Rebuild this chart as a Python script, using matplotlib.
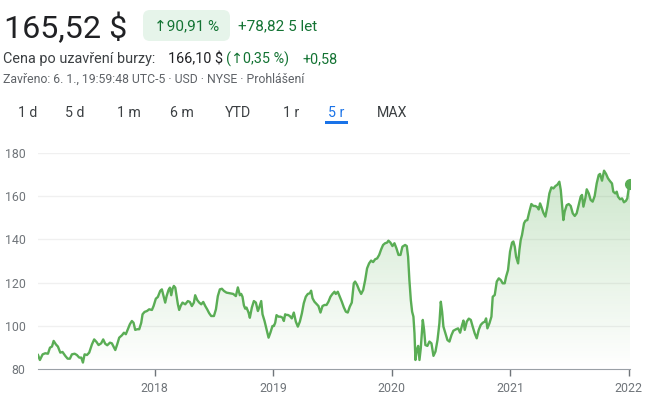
import numpy as np
import matplotlib.pyplot as plt
from matplotlib.patches import FancyBboxPatch, Rectangle
from matplotlib.transforms import Affine2D

# data: decimal year, closing price ($)
years = [
    2017.017, 2017.033, 2017.056, 2017.078, 2017.101, 2017.118, 2017.135, 2017.149,
    2017.168, 2017.185, 2017.205, 2017.224, 2017.247, 2017.267, 2017.286, 2017.303,
    2017.326, 2017.345, 2017.365, 2017.382, 2017.396, 2017.410, 2017.430, 2017.449,
    2017.472, 2017.491, 2017.511, 2017.528, 2017.550, 2017.567, 2017.584, 2017.601,
    2017.624, 2017.640, 2017.654, 2017.669, 2017.685, 2017.702, 2017.725, 2017.742,
    2017.758, 2017.775, 2017.792, 2017.809, 2017.823, 2017.837, 2017.854, 2017.871,
    2017.888, 2017.899, 2017.916, 2017.936, 2017.955, 2017.978, 2017.992, 2018.011,
    2018.028, 2018.048, 2018.062, 2018.076, 2018.090,
    2018.102, 2018.118, 2018.130, 2018.141, 2018.152, 2018.163, 2018.175, 2018.186,
    2018.197, 2018.208, 2018.220, 2018.236, 2018.259, 2018.281, 2018.298, 2018.315,
    2018.332, 2018.343, 2018.360, 2018.377, 2018.394, 2018.411, 2018.428, 2018.444,
    2018.461, 2018.478, 2018.501, 2018.518, 2018.534, 2018.551, 2018.568, 2018.585,
    2018.607, 2018.636, 2018.664, 2018.686, 2018.703, 2018.720, 2018.731, 2018.742,
    2018.754, 2018.765, 2018.776, 2018.793, 2018.804, 2018.821, 2018.838, 2018.855,
    2018.872, 2018.883, 2018.900, 2018.911, 2018.928, 2018.945, 2018.962, 2018.978,
    2018.995, 2019.007, 2019.018, 2019.029, 2019.046, 2019.063, 2019.080, 2019.091,
    2019.102,
    2019.108, 2019.125, 2019.141, 2019.158, 2019.175, 2019.192, 2019.209, 2019.226,
    2019.243, 2019.259, 2019.276, 2019.293, 2019.310, 2019.321, 2019.333, 2019.349,
    2019.366, 2019.383, 2019.400, 2019.417, 2019.434, 2019.451, 2019.467, 2019.484,
    2019.501, 2019.518, 2019.529, 2019.546, 2019.563, 2019.580, 2019.597, 2019.614,
    2019.630, 2019.647, 2019.664, 2019.681, 2019.692, 2019.709, 2019.726, 2019.743,
    2019.760, 2019.777, 2019.793, 2019.810, 2019.827, 2019.844, 2019.861, 2019.878,
    2019.895, 2019.912, 2019.928, 2019.945, 2019.962, 2019.973, 2019.990, 2020.007,
    2020.024, 2020.041, 2020.058, 2020.075, 2020.091, 2020.114,
    2020.128, 2020.139, 2020.150, 2020.162, 2020.173, 2020.184, 2020.193, 2020.201,
    2020.212, 2020.224, 2020.235, 2020.246, 2020.263, 2020.274, 2020.285, 2020.302,
    2020.319, 2020.336, 2020.353, 2020.370, 2020.387, 2020.403, 2020.415, 2020.426,
    2020.437, 2020.454, 2020.471, 2020.488, 2020.505, 2020.521, 2020.544, 2020.561,
    2020.578, 2020.595, 2020.606, 2020.617, 2020.634, 2020.651, 2020.668, 2020.684,
    2020.701, 2020.718, 2020.735, 2020.752, 2020.769, 2020.786, 2020.797, 2020.808,
    2020.825, 2020.842, 2020.853, 2020.870, 2020.887, 2020.904, 2020.921, 2020.937,
    2020.954, 2020.966, 2020.982, 2020.999,
    2021.016, 2021.027, 2021.039, 2021.050, 2021.067, 2021.078, 2021.089, 2021.100,
    2021.117, 2021.129, 2021.145, 2021.162, 2021.179, 2021.196, 2021.213, 2021.230,
    2021.241, 2021.252, 2021.263, 2021.280, 2021.297, 2021.314, 2021.331, 2021.348,
    2021.365, 2021.382, 2021.398, 2021.415, 2021.427, 2021.438, 2021.449, 2021.460,
    2021.477, 2021.494, 2021.511, 2021.528, 2021.545, 2021.561, 2021.578, 2021.595,
    2021.606, 2021.618, 2021.634, 2021.646, 2021.663, 2021.679, 2021.696, 2021.713,
    2021.730, 2021.747, 2021.758, 2021.775, 2021.792, 2021.809, 2021.825, 2021.842,
    2021.859, 2021.870, 2021.887, 2021.899, 2021.910, 2021.927, 2021.944, 2021.960,
    2021.977, 2021.988, 2022.000, 2022.005, 2022.011,
]
prices = [
    86.6, 84.3, 86.9, 87.4, 87.2, 90.0, 90.5, 93.1,
    91.5, 90.5, 87.7, 88.0, 86.2, 84.9, 84.9, 86.9,
    87.2, 86.6, 85.4, 85.4, 83.1, 86.9, 86.6, 87.7,
    91.5, 93.8, 92.6, 91.2, 92.0, 93.8, 91.8, 91.1,
    92.3, 92.0, 90.5, 88.9, 91.5, 94.6, 95.7, 96.9,
    96.2, 98.5, 100.8, 102.3, 101.5, 98.2, 98.5, 98.5,
    101.5, 105.4, 106.5, 106.9, 107.7, 107.4, 109.2, 112.6,
    113.4, 116.2, 116.9, 113.8, 110.8,
    113.8, 116.6, 117.7, 114.2, 117.2, 118.5, 117.7, 113.8,
    110.0, 107.4, 109.2, 110.8, 110.0, 111.5, 111.1, 109.2,
    110.8, 114.2, 112.0, 110.8, 110.0, 111.1, 109.2, 107.7,
    105.9, 104.6, 104.6, 107.7, 113.8, 116.9, 117.2, 116.2,
    115.4, 115.1, 114.8, 113.8, 117.8, 114.2, 114.8, 113.5,
    109.5, 108.0, 108.5, 106.2, 103.8, 108.5, 111.5, 110.8,
    106.9, 108.5, 111.5, 105.4, 102.3, 98.5, 94.6, 97.0,
    100.0, 100.0, 101.5, 105.0, 104.3, 104.3, 103.8, 102.3,
    105.4,
    105.1, 105.1, 104.6, 103.5, 106.2, 102.0, 99.7, 102.0,
    105.8, 110.5, 113.5, 114.8, 115.1, 116.3, 112.8, 111.2,
    110.2, 109.2, 106.2, 109.2, 109.7, 109.7, 111.2, 113.5,
    114.8, 115.8, 114.8, 115.8, 113.5, 111.2, 108.6, 106.6,
    106.2, 108.9, 110.8, 119.7, 120.5, 118.9, 116.6, 114.8,
    116.6, 121.2, 126.6, 128.9, 130.2, 129.5, 130.8, 131.2,
    132.8, 135.4, 137.4, 138.2, 138.5, 139.4, 138.5, 136.9,
    138.2, 135.8, 132.8, 132.8, 136.6, 137.4,
    136.9, 132.0, 121.2, 112.0, 106.6, 104.3, 96.6, 84.3,
    88.9, 90.8, 84.3, 89.7, 102.8, 98.2, 91.2, 90.8,
    92.8, 92.0, 86.2, 88.2, 93.5, 101.2, 111.2, 106.6,
    99.7, 96.6, 93.5, 92.8, 95.8, 97.8, 98.5, 98.9,
    96.9, 100.5, 102.5, 98.2, 102.0, 103.4, 102.8, 99.7,
    96.6, 94.3, 98.2, 100.5, 101.5, 102.0, 103.5, 98.9,
    101.2, 104.3, 113.5, 114.3, 120.5, 122.0, 121.2, 119.7,
    119.7, 122.8, 125.8, 134.3,
    138.5, 139.0, 136.6, 132.0, 128.9, 135.1, 139.7, 142.0,
    147.4, 148.6, 148.9, 152.8, 156.3, 155.4, 155.4, 154.8,
    153.8, 156.6, 155.1, 152.3, 150.5, 155.1, 161.2, 164.0,
    163.5, 164.6, 165.2, 166.6, 162.8, 155.8, 148.9, 152.8,
    155.8, 156.3, 155.4, 152.0, 150.8, 152.0, 155.8, 159.7,
    160.5, 155.1, 158.9, 163.1, 161.2, 158.2, 157.4, 160.0,
    165.8, 169.7, 170.2, 167.1, 171.7, 170.2, 168.2, 166.9,
    165.8, 162.0, 161.2, 162.0, 159.7, 158.5, 158.9, 157.1,
    157.8, 158.9, 163.5, 164.8, 165.52,
]
year_ticks = [2018, 2019, 2020, 2021, 2022]
price_ticks = [80, 100, 120, 140, 160, 180]
tabs = ["1 d", "5 d", "1 m", "6 m", "YTD", "1 r", "5 r", "MAX"]
tab_x = [18, 65, 117, 170, 225, 283, 328, 377]
active_tab = "5 r"

GREEN_TXT = "#137333"
LINE = "#5aad55"
GRAY = "#5f6368"

plt.rcParams['font.family'] = ['Roboto', 'DejaVu Sans']

W, H = 650, 399
fig = plt.figure(figsize=(W / 100, H / 100), dpi=100)
# pixel coords with origin top-left
px = Affine2D().scale(1 / W, -1 / H).translate(0, 1) + fig.transFigure

# header
fig.text(4, 38, "165,52 $", transform=px, fontsize=23.2, color="#202124", va="baseline")
fig.patches.append(FancyBboxPatch((143, 10), 87, 31, boxstyle="round,pad=0,rounding_size=7",
                                  transform=px, facecolor="#e6f4ea", edgecolor="none"))
fig.text(187, 26, "↑90,91 %", transform=px, fontsize=11, color=GREEN_TXT, ha="center", va="center")
fig.text(238, 26, "+78,82 5 let", transform=px, fontsize=11, color=GREEN_TXT, va="center")

fig.text(3, 59, "Cena po uzavření burzy:", transform=px, fontsize=10.4, color="#3c4043", va="center")
fig.text(168, 59, "166,10 $", transform=px, fontsize=10.4, color="#202124", va="center")
fig.text(226, 59, "(↑0,35 %)", transform=px, fontsize=10.4, color=GREEN_TXT, va="center")
fig.text(302, 59, "+0,58", transform=px, fontsize=10.4, color=GREEN_TXT, va="center")
fig.text(3, 79, "Zavřeno: 6. 1., 19:59:48 UTC-5 · USD · NYSE · Prohlášení", transform=px,
         fontsize=8.8, color=GRAY, va="center")

for label, x in zip(tabs, tab_x):
    c = "#1a73e8" if label == active_tab else "#3c4043"
    fig.text(x, 113, label, transform=px, fontsize=10.2, color=c, va="center")
    if label == active_tab:
        fig.patches.append(Rectangle((325, 121), 23, 3, transform=px, facecolor=c, edgecolor="none"))

# chart
ax = fig.add_axes([38 / W, 1 - 369.3 / H, 592 / W, (369.3 - 152.7) / H])
x = np.array(years)
y = np.array(prices)
ax.plot(x, y, color=LINE, lw=1.7, zorder=3, solid_joinstyle="round")
ax.plot(x[-1], y[-1], "o", color=LINE, ms=7, zorder=4)

# gradient fill under the line
poly = ax.fill_between(x, y, 80, facecolor="none", edgecolor="none")
grad = np.linspace(0.0, 1.0, 256).reshape(-1, 1)
rgba = np.zeros((256, 1, 4))
rgba[..., 0] = 0.35
rgba[..., 1] = 0.68
rgba[..., 2] = 0.33
rgba[..., 3] = grad * 0.3
im = ax.imshow(rgba, aspect="auto", extent=[x[0], x[-1], 80, y.max()], origin="lower", zorder=2)
im.set_clip_path(poly.get_paths()[0], transform=ax.transData)

ax.set_xlim(x[0], x[-1])
ax.set_ylim(80, 180)
ax.set_xticks(year_ticks)
ax.set_xticklabels([str(t) for t in year_ticks])
ax.set_yticks(price_ticks)
for t in price_ticks[1:]:
    ax.axhline(t, color="#f0f0f0", lw=1, zorder=1)
for s in ["top", "right", "left"]:
    ax.spines[s].set_visible(False)
ax.spines["bottom"].set_color("#9aa0a6")
ax.tick_params(axis="x", length=5, width=1, color="#70757a", labelcolor="#70757a",
               labelsize=8.9, pad=4)
ax.tick_params(axis="y", length=0, labelcolor="#70757a", labelsize=8.9, pad=9)
ax.set_facecolor("none")

plt.savefig("out.png", dpi=100)
